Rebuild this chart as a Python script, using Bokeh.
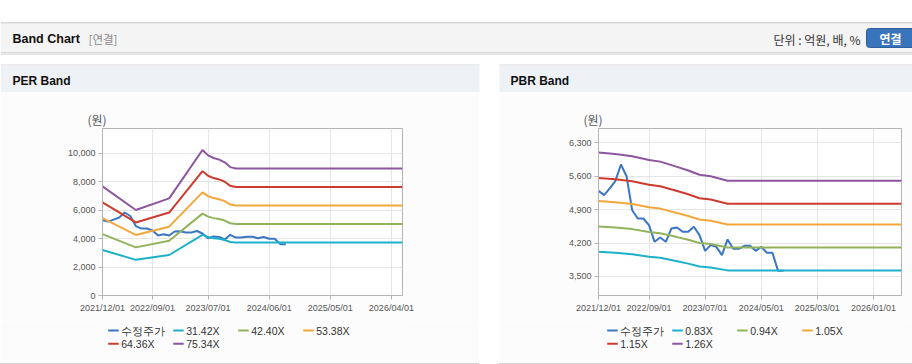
from bokeh.plotting import figure
from bokeh.models import Range1d, FixedTicker, NumeralTickFormatter, Spacer
from bokeh.layouts import column, row
from bokeh.embed import file_html
from bokeh.resources import INLINE
from bokeh.core.properties import value

# ---------------- data ----------------
axis_start = "2021/12/01"
axis_end = "2026/06/01"

price_label = "수정주가"
price_start = "2021/12/01"
price_values = [5294, 5203, 5343, 5496, 5845, 5600, 4888, 4714, 4714, 4574,
                4225, 4316, 4225, 4505, 4526, 4435, 4435, 4540, 4365, 4036,
                4155, 4120, 3946, 4275, 4078, 4078, 4141, 4141, 4036, 4120,
                3995, 3995, 3617, 3617]

per_labels = ["31.42X", "42.40X", "53.38X", "64.36X", "75.34X"]
per_multiples = [31.42, 42.40, 53.38, 64.36, 75.34]
per_eps_months = ["2021/12/01", "2022/06/01", "2022/12/01", "2023/06/01", "2023/07/01",
                  "2023/08/01", "2023/09/01", "2023/10/01", "2023/11/01", "2023/12/01",
                  "2026/06/01"]
per_eps = [102.0, 79.9, 90.8, 136.0, 131.0, 128.5, 127.0, 124.5, 120.0, 118.7, 118.7]

pbr_labels = ["0.83X", "0.94X", "1.05X", "1.15X", "1.26X"]
pbr_multiples = [0.83, 0.94, 1.05, 1.15, 1.26]
pbr_bps_months = ["2021/12/01", "2022/03/01", "2022/06/01", "2022/09/01", "2022/11/01",
                  "2023/02/01", "2023/04/01", "2023/06/01", "2023/08/01", "2023/11/01",
                  "2026/06/01"]
pbr_bps = [4837, 4813, 4778, 4714, 4687, 4600, 4540, 4468, 4444, 4369, 4369]

per_y_ticks = [0, 2000, 4000, 6000, 8000, 10000]
per_y_range = (0, 11760)
pbr_y_ticks = [3500, 4200, 4900, 5600, 6300]
pbr_y_range = (3100, 6600)
per_x_ticks = ["2021/12/01", "2022/09/01", "2023/07/01", "2024/06/01", "2025/05/01", "2026/04/01"]
pbr_x_ticks = ["2021/12/01", "2022/09/01", "2023/07/01", "2024/05/01", "2025/03/01", "2026/01/01"]

price_color = "#3a76c4"
band_colors = ["#1db1c9", "#92b35b", "#f3a73b", "#cd3b2e", "#8c56a0"]

GRID = "#e6e6e6"
AXIS = "#b4b4b4"
PANEL_BG = "#fcfcfc"
LABEL_FONT = "Liberation Sans"
KR_FONT = "Noto Sans CJK KR"


def midx(s):
    y, m = int(s[:4]), int(s[5:7])
    y0, m0 = int(axis_start[:4]), int(axis_start[5:7])
    return (y - y0) * 12 + (m - m0)


def build_panel(width, left, right, yr, yticks, xticks, band_months, base, mults, labels):
    p = figure(width=width, height=228,
               x_range=Range1d(midx(axis_start), midx(axis_end)),
               y_range=Range1d(*yr),
               output_backend="svg", toolbar_location=None,
               min_border_left=left, min_border_right=right,
               min_border_top=36, min_border_bottom=25,
               title="(원)")
    p.background_fill_color = "#ffffff"
    p.border_fill_color = PANEL_BG
    p.outline_line_color = AXIS
    p.title.align = "left"
    p.title.offset = -15
    p.title.standoff = 2
    p.title.text_font = KR_FONT
    p.title.text_font_size = "12px"
    p.title.text_font_style = "normal"
    p.title.text_color = "#555555"

    p.xgrid.grid_line_color = GRID
    p.ygrid.grid_line_color = GRID
    p.xaxis.ticker = FixedTicker(ticks=[midx(t) for t in xticks])
    p.xaxis.major_label_overrides = {midx(t): t for t in xticks}
    p.yaxis.ticker = FixedTicker(ticks=yticks)
    p.yaxis.formatter = NumeralTickFormatter(format="0,0")
    for ax in (p.xaxis[0], p.yaxis[0]):
        ax.axis_line_color = AXIS
        ax.major_tick_line_color = AXIS
        ax.minor_tick_line_color = None
        ax.major_tick_in = 0
        ax.major_tick_out = 4
        ax.major_label_standoff = 3
        ax.major_label_text_font = LABEL_FONT
        ax.major_label_text_font_size = "9px"
        ax.major_label_text_color = "#555555"

    px = [midx(price_start) + i for i in range(len(price_values))]
    p.line(px, price_values, line_color=price_color, line_width=2)
    bx = [midx(m) for m in band_months]
    for mult, col in zip(mults, band_colors):
        p.line(bx, [b * mult for b in base], line_color=col, line_width=2)

    # legend strip below the chart (pixel-coordinate chrome, frame aligned with chart)
    lg = figure(width=width, height=43, x_range=Range1d(left, width - right),
                y_range=Range1d(43, 0),
                output_backend="svg", toolbar_location=None,
                min_border_left=left, min_border_right=right,
                min_border_top=0, min_border_bottom=0,
                x_axis_type=None, y_axis_type=None)
    lg.grid.visible = False
    lg.outline_line_color = None
    lg.background_fill_color = PANEL_BG
    lg.border_fill_color = PANEL_BG
    names = [price_label] + labels
    colors = [price_color] + band_colors
    ncols = 4
    gx = [107.7 + 65 * (k % ncols) for k in range(len(names))]
    gy = [10 + 13.3 * (k // ncols) for k in range(len(names))]
    lg.segment(x0=gx, y0=gy, x1=[x + 10.5 for x in gx], y1=gy, line_color=colors, line_width=2)
    lg.text(x=[x + 13 for x in gx], y=gy, text=names, text_font=value(LABEL_FONT),
            text_font_size="10.5px", text_baseline="middle", text_color="#333333")
    return column(p, lg)


per = build_panel(479, 102, 77, per_y_range, per_y_ticks, per_x_ticks,
                  per_eps_months, per_eps, per_multiples, per_labels)
pbr = build_panel(413, 99, 11, pbr_y_range, pbr_y_ticks, pbr_x_ticks,
                  pbr_bps_months, pbr_bps, pbr_multiples, pbr_labels)

# ---------------- header chrome ----------------
h = figure(width=912, height=92, x_range=Range1d(0, 912), y_range=Range1d(92, 0),
           output_backend="svg", toolbar_location=None, min_border=0,
           x_axis_type=None, y_axis_type=None)
h.grid.visible = False
h.outline_line_color = None
h.background_fill_color = "#ffffff"
h.border_fill_color = "#ffffff"

h.quad(left=[0], right=[912], top=[22], bottom=[23], fill_color="#b4b4b4", line_color=None)
h.quad(left=[0], right=[912], top=[23], bottom=[52], fill_color="#f4f4f4", line_color=None)
h.quad(left=[0], right=[912], top=[52], bottom=[53], fill_color="#c4c4c4", line_color=None)
h.quad(left=[0], right=[912], top=[53], bottom=[54.5], fill_color="#e8e8e8", line_color=None)
h.quad(left=[0, 499], right=[479, 912], top=[64, 64], bottom=[65, 65], fill_color="#dcdcdc", line_color=None)
h.quad(left=[0, 499], right=[479, 912], top=[65, 65], bottom=[92, 92], fill_color="#eef2f7", line_color=None)

h.text(x=[12], y=[38.5], text=["Band Chart"], text_font=value(LABEL_FONT), text_font_style="bold",
       text_font_size="12.5px", text_baseline="middle", text_color="#111111")
h.text(x=[88], y=[38.5], text=["[연결]"], text_font=value(KR_FONT),
       text_font_size="11.5px", text_baseline="middle", text_color="#8a8a8a")
h.text(x=[860], y=[39], text=["단위 : 억원, 배, %"], text_font=value(KR_FONT),
       text_font_size="12px", text_baseline="middle", text_align="right", text_color="#333333")
h.quad(left=[866], right=[916], top=[28], bottom=[47], fill_color="#3a74ba",
       line_color="#2d5f9f", border_radius=3)
h.text(x=[890], y=[37.5], text=["연결"], text_font=value(KR_FONT), text_font_style="bold",
       text_font_size="12px", text_baseline="middle", text_align="center", text_color="#ffffff")
h.text(x=[12, 510], y=[80, 80], text=["PER Band", "PBR Band"], text_font=value(LABEL_FONT),
       text_font_style="bold", text_font_size="12px", text_baseline="middle", text_color="#111111")

bottom = row(Spacer(width=479, height=1, styles={"background-color": "#d4d4d4"}),
             Spacer(width=20, height=1),
             Spacer(width=413, height=1, styles={"background-color": "#d4d4d4"}))

layout = column(h, row(per, Spacer(width=20, height=271), pbr), bottom)

open("out.html", "w").write(file_html(layout, INLINE))
